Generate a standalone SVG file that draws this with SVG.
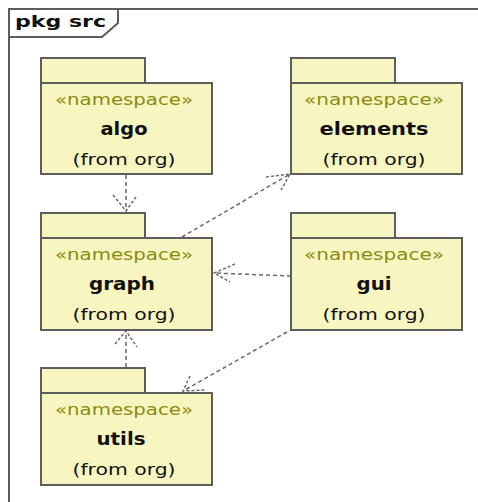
<svg xmlns="http://www.w3.org/2000/svg" width="478" height="502" viewBox="0 0 478 502">
  <style>
    .frame { fill: none; stroke: #5e5e5e; stroke-width: 2; }
    .pkg { fill: #f8f6c0; stroke: #5e5e5e; stroke-width: 2; }
    .stereo { font-family: "DejaVu Sans", Verdana, sans-serif; font-size: 16px; fill: #8a8a10; text-anchor: middle; }
    .name { font-family: "DejaVu Sans", Verdana, sans-serif; font-size: 17px; font-weight: bold; fill: #111; text-anchor: middle; }
    .from { font-family: "DejaVu Sans", Verdana, sans-serif; font-size: 16px; fill: #111; text-anchor: middle; }
    .title { font-family: "DejaVu Sans", Verdana, sans-serif; font-size: 16px; font-weight: bold; fill: #111; }
    .dep { fill: none; stroke: #6a6a6a; stroke-width: 1.5; stroke-dasharray: 4 3; }
    .head { fill: none; stroke: #6a6a6a; stroke-width: 1.5; stroke-dasharray: 3 2; }
  </style>

  <rect width="478" height="502" fill="#ffffff"/>

  <!-- package frame with name tab -->
  <g id="frame">
    <rect class="frame" x="9" y="9" width="480" height="500"/>
    <path class="frame" d="M9 37 H102 L118 23 V9"/>
    <text class="title" x="15" y="27" textLength="91" lengthAdjust="spacingAndGlyphs">pkg src</text>
  </g>

  <!-- dependency connectors -->
  <g id="connectors">
    <!-- algo -> graph -->
    <line class="dep" x1="126" y1="175" x2="126" y2="211"/>
    <path class="head" d="M113 195 L126 211 L136 197"/>
    <!-- graph -> elements -->
    <line class="dep" x1="182" y1="237" x2="290" y2="174"/>
    <path class="head" d="M266 177 L290 174 L281 190"/>
    <!-- gui -> graph -->
    <line class="dep" x1="291" y1="276" x2="214" y2="273"/>
    <path class="head" d="M235 264 L214 273 L230 282"/>
    <!-- utils -> graph -->
    <line class="dep" x1="126" y1="367" x2="126" y2="331"/>
    <path class="head" d="M115 344 L126 331 L137 347"/>
    <!-- gui -> utils -->
    <line class="dep" x1="287" y1="332" x2="183" y2="391"/>
    <path class="head" d="M190 376 L183 391 L206 390"/>
  </g>

  <g id="algo">
    <rect class="pkg" x="41" y="58" width="104" height="25"/>
    <rect class="pkg" x="41" y="83" width="171" height="91"/>
    <text class="stereo" x="124" y="105" textLength="138" lengthAdjust="spacingAndGlyphs">«namespace»</text>
    <text class="name" x="124" y="135" textLength="47" lengthAdjust="spacingAndGlyphs">algo</text>
    <text class="from" x="124" y="165" textLength="103" lengthAdjust="spacingAndGlyphs">(from org)</text>
  </g>

  <g id="elements">
    <rect class="pkg" x="291" y="58" width="104" height="25"/>
    <rect class="pkg" x="291" y="83" width="171" height="91"/>
    <text class="stereo" x="374" y="105" textLength="140" lengthAdjust="spacingAndGlyphs">«namespace»</text>
    <text class="name" x="374" y="135" textLength="109" lengthAdjust="spacingAndGlyphs">elements</text>
    <text class="from" x="374" y="165" textLength="103" lengthAdjust="spacingAndGlyphs">(from org)</text>
  </g>

  <g id="graph">
    <rect class="pkg" x="41" y="213" width="104" height="25"/>
    <rect class="pkg" x="41" y="238" width="171" height="92"/>
    <text class="stereo" x="124" y="260" textLength="138" lengthAdjust="spacingAndGlyphs">«namespace»</text>
    <text class="name" x="122" y="290" textLength="66" lengthAdjust="spacingAndGlyphs">graph</text>
    <text class="from" x="124" y="320" textLength="103" lengthAdjust="spacingAndGlyphs">(from org)</text>
  </g>

  <g id="gui">
    <rect class="pkg" x="291" y="213" width="104" height="25"/>
    <rect class="pkg" x="291" y="238" width="171" height="92"/>
    <text class="stereo" x="374" y="260" textLength="140" lengthAdjust="spacingAndGlyphs">«namespace»</text>
    <text class="name" x="374" y="290" textLength="35" lengthAdjust="spacingAndGlyphs">gui</text>
    <text class="from" x="374" y="320" textLength="103" lengthAdjust="spacingAndGlyphs">(from org)</text>
  </g>

  <g id="utils">
    <rect class="pkg" x="41" y="368" width="104" height="25"/>
    <rect class="pkg" x="41" y="393" width="171" height="92"/>
    <text class="stereo" x="124" y="415" textLength="138" lengthAdjust="spacingAndGlyphs">«namespace»</text>
    <text class="name" x="121" y="445" textLength="49" lengthAdjust="spacingAndGlyphs">utils</text>
    <text class="from" x="124" y="475" textLength="103" lengthAdjust="spacingAndGlyphs">(from org)</text>
  </g>
</svg>
